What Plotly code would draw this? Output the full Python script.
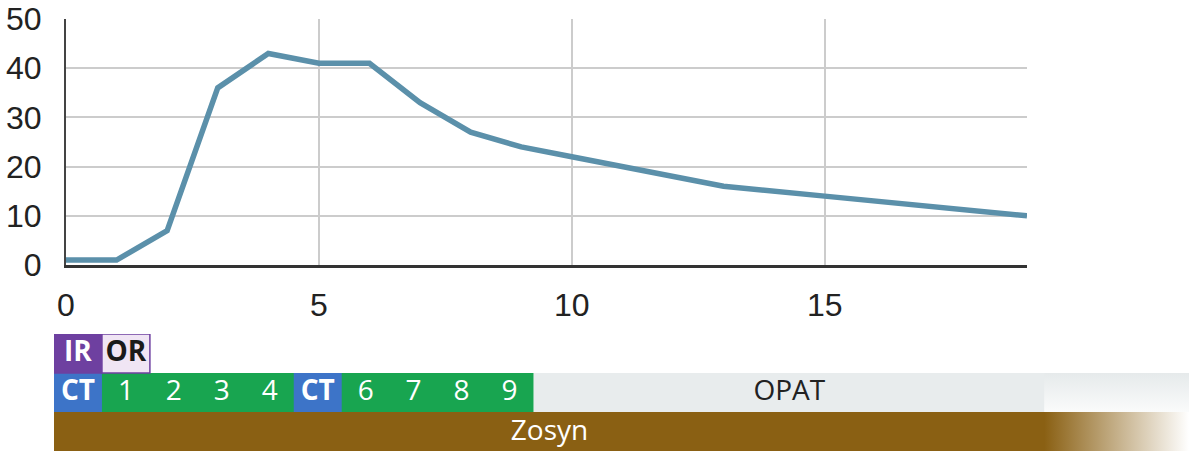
import plotly.graph_objects as go

# Main curve: value by day
days = [0, 1, 2, 3, 4, 5, 6, 7, 8, 9, 10, 13, 15, 19]
values = [1, 1, 7, 36, 43, 41, 41, 33, 27, 24, 22, 16, 14, 10]
x_ticks = [0, 5, 10, 15]
y_ticks = [0, 10, 20, 30, 40, 50]

# Timeline rows (cells on a day grid)
procedure_row = [(0, 1, "IR"), (1, 2, "OR")]
imaging_cells = [0, 5]                  # CT days
course_span = (1, 10)                   # treatment days (CT cells drawn on top)
course_days = [1, 2, 3, 4, 6, 7, 8, 9]  # numbered treatment days
opat_span = (10, 20.67)
zosyn_span = (0, 20.67)
fade_end = 23.67

W, H = 1189, 452
BROWN = "#8a6013"
GREEN = "#18a550"
BLUE = "#3d74c8"
PURPLE = "#6e40a0"
LAVENDER = "#f0e5f4"
GREY = "#e8eced"
TL_FONT = "Open Sans"

fig = go.Figure()

fig.add_trace(go.Scatter(
    x=days, y=values, mode="lines",
    line=dict(color="#5b90aa", width=5.5),
    xaxis="x", yaxis="y", hoverinfo="skip",
))


def bar(row, start, end, color, line_color=None, line_width=0):
    fig.add_trace(go.Bar(
        orientation="h", y=[row + 0.5], x=[end - start], base=[start],
        width=1, marker=dict(color=color,
                             line=dict(color=line_color or color, width=line_width)),
        xaxis="x2", yaxis="y2", hoverinfo="skip",
    ))


def fade(row, start, end, colors, kind):
    # slight overlap with the solid block so no seam shows
    s = start - 0.02
    fig.add_trace(go.Scatter(
        x=[s, end, end, s, s], y=[row, row, row + 1, row + 1, row],
        mode="lines", line=dict(width=0), fill="toself",
        fillgradient=dict(type=kind, colorscale=[[0, colors[0]], [1, colors[1]]]),
        xaxis="x2", yaxis="y2", hoverinfo="skip",
    ))


# Bottom row: Zosyn
bar(0, zosyn_span[0], zosyn_span[1], BROWN)
fade(0, zosyn_span[1], fade_end, (BROWN, "#ffffff"), "horizontal")

# Middle row: CT / treatment days / OPAT
bar(1, opat_span[0], opat_span[1], GREY)
fade(1, opat_span[1], fade_end, ("#fafbfb", "#e6eaeb"), "vertical")
bar(1, course_span[0] - 0.02, course_span[1], GREEN)
for d in imaging_cells:
    bar(1, d, d + 1, BLUE)

# Top row: IR / OR
bar(2, procedure_row[0][0], procedure_row[0][1], PURPLE, PURPLE, 1.5)
bar(2, procedure_row[1][0], procedure_row[1][1], LAVENDER, PURPLE, 1.5)

# Labels
fig.add_trace(go.Scatter(
    x=[0.5, 5.5, 0.5], y=[1.5, 1.5, 2.5], text=["CT", "CT", "IR"],
    mode="text", textfont=dict(family=TL_FONT, size=28, color="white", weight="bold"),
    xaxis="x2", yaxis="y2", hoverinfo="skip",
))
fig.add_trace(go.Scatter(
    x=[1.5], y=[2.5], text=["OR"],
    mode="text", textfont=dict(family=TL_FONT, size=28, color="#1a1a1a", weight="bold"),
    xaxis="x2", yaxis="y2", hoverinfo="skip",
))
fig.add_trace(go.Scatter(
    x=[d + 0.5 for d in course_days], y=[1.5] * len(course_days),
    text=[str(d) for d in course_days],
    mode="text", textfont=dict(family=TL_FONT, size=28, color="white"),
    xaxis="x2", yaxis="y2", hoverinfo="skip",
))
fig.add_trace(go.Scatter(
    x=[(opat_span[0] + opat_span[1]) / 2], y=[1.5], text=["OPAT"],
    mode="text", textfont=dict(family=TL_FONT, size=28, color="#222222"),
    xaxis="x2", yaxis="y2", hoverinfo="skip",
))
fig.add_trace(go.Scatter(
    x=[(zosyn_span[0] + zosyn_span[1]) / 2], y=[0.45], text=["Zosyn"],
    mode="text", textfont=dict(family=TL_FONT, size=28, color="white"),
    xaxis="x2", yaxis="y2", hoverinfo="skip",
))

tick_font = dict(family="Liberation Sans, Arial", size=32, color="#222222")

fig.update_layout(
    width=W, height=H,
    margin=dict(l=0, r=0, t=0, b=0, autoexpand=False),
    paper_bgcolor="white", plot_bgcolor="white",
    showlegend=False,
    barmode="overlay",
    xaxis=dict(
        domain=[66 / W, 1027 / W], range=[0, 19], anchor="y", automargin=False,
        tickvals=x_ticks, showgrid=True, gridcolor="#cccccc", gridwidth=2,
        zeroline=False, showline=True, linecolor="#333333", linewidth=3,
        ticks="", tickfont=tick_font, ticklabelstandoff=10,
    ),
    yaxis=dict(
        domain=[1 - 265 / H, 1 - 19 / H], range=[0, 50], anchor="x", automargin=False,
        tickvals=y_ticks, showgrid=True, gridcolor="#cccccc", gridwidth=2,
        zeroline=False, showline=True, linecolor="#444444", linewidth=2,
        ticks="", tickfont=tick_font, ticklabelstandoff=16,
    ),
    xaxis2=dict(domain=[54 / W, 1], range=[0, fade_end], anchor="y2",
                visible=False, fixedrange=True, automargin=False),
    yaxis2=dict(domain=[1 - 451 / H, 1 - 334 / H], range=[0, 3], anchor="x2",
                visible=False, fixedrange=True, automargin=False),
)

fig.write_html("out.html")
